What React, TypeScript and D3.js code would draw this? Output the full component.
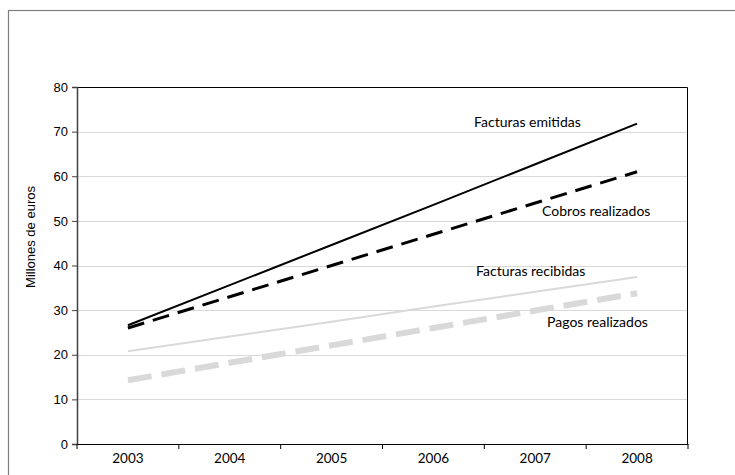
import { useEffect, useRef } from 'react';
import * as d3 from 'd3';

const years = ['2003', '2004', '2005', '2006', '2007', '2008'];
const facturasEmitidas = [26.6, 35.6, 44.6, 53.6, 62.7, 71.8];
const cobrosRealizados = [26.0, 33.0, 40.0, 47.0, 54.0, 61.0];
const facturasRecibidas = [20.8, 24.1, 27.4, 30.8, 34.1, 37.4];
const pagosRealizados = [14.3, 18.2, 22.1, 26.0, 29.9, 33.8];
const yTicks = [0, 10, 20, 30, 40, 50, 60, 70, 80];

type Serie = {
  name: string;
  values: number[];
  color: string;
  width: number;
  dash: string | null;
  label: { dx: number; dy: number };
};

const series: Serie[] = [
  { name: 'Facturas emitidas', values: facturasEmitidas, color: '#000000', width: 2, dash: null, label: { dx: -163, dy: 3 } },
  { name: 'Cobros realizados', values: cobrosRealizados, color: '#000000', width: 3, dash: '17,9', label: { dx: -95, dy: 44 } },
  { name: 'Facturas recibidas', values: facturasRecibidas, color: '#d9d9d9', width: 2, dash: null, label: { dx: -161, dy: -1 } },
  { name: 'Pagos realizados', values: pagosRealizados, color: '#d9d9d9', width: 6, dash: '24,10', label: { dx: -90, dy: 34 } },
];

export default function App() {
  const svgRef = useRef<SVGSVGElement>(null);

  useEffect(() => {
    if (!svgRef.current) return;
    const svg = d3.select(svgRef.current);
    svg.selectAll('*').remove();

    const W = 735, H = 475;
    const margin = { top: 87, right: 47, bottom: 31, left: 77 };
    const width = W - margin.left - margin.right;
    const height = H - margin.top - margin.bottom;
    const font = 'Lato, "Open Sans", sans-serif';
    const axisFont = '"Liberation Sans", Arial, sans-serif';

    // outer frame (cut off by the picture edges)
    svg.append('rect')
      .attr('x', 8.5).attr('y', 10.5)
      .attr('width', 800).attr('height', 600)
      .attr('fill', 'none').attr('stroke', '#7f7f7f').attr('stroke-width', 1.2);

    const g = svg.append('g').attr('transform', `translate(${margin.left},${margin.top})`);

    const x = d3.scaleBand().domain(years).range([0, width]);
    const y = d3.scaleLinear().domain([0, 80]).range([height, 0]);

    // grid
    g.selectAll('.grid')
      .data(yTicks.filter(d => d > 0 && d < 80))
      .enter().append('line')
      .attr('x1', 0).attr('x2', width)
      .attr('y1', d => Math.round(y(d)) + 0.5).attr('y2', d => Math.round(y(d)) + 0.5)
      .attr('stroke', '#d9d9d9').attr('stroke-width', 1);

    // plot border top/right
    g.append('path')
      .attr('d', `M0,0.5H${width - 0.5}V${height}`)
      .attr('fill', 'none').attr('stroke', '#000').attr('stroke-width', 1);

    // y axis
    const yAxis = g.append('g').call(d3.axisLeft(y).tickValues(yTicks).tickSize(5).tickPadding(4));
    yAxis.select('.domain').attr('stroke', '#404040').attr('stroke-width', 1.5);
    yAxis.selectAll('.tick line').attr('stroke', '#404040');
    yAxis.selectAll('.tick text').attr('font-family', axisFont).attr('font-size', 13).attr('fill', '#000');

    // x axis
    const xAxis = g.append('g').attr('transform', `translate(0,${height})`)
      .call(d3.axisBottom(x).tickSize(0).tickPadding(9));
    xAxis.select('.domain').attr('stroke', '#000').attr('stroke-width', 1.2);
    xAxis.selectAll('.tick text').attr('font-family', font).attr('font-size', 13.5).attr('fill', '#000');
    g.selectAll('.xtick')
      .data(d3.range(years.length + 1))
      .enter().append('line')
      .attr('x1', i => i * x.step()).attr('x2', i => i * x.step())
      .attr('y1', height).attr('y2', height + 5)
      .attr('stroke', '#000');

    const line = d3.line<number>()
      .x((_, i) => (x(years[i]) as number) + x.bandwidth() / 2)
      .y(d => y(d));

    // draw light ones first
    [...series].reverse().forEach(s => {
      g.append('path')
        .datum(s.values)
        .attr('fill', 'none')
        .attr('stroke', s.color)
        .attr('stroke-width', s.width)
        .attr('stroke-dasharray', s.dash)
        .attr('d', line);
    });

    series.forEach(s => {
      const last = s.values.length - 1;
      const px = (x(years[last]) as number) + x.bandwidth() / 2;
      g.append('text')
        .attr('x', px + s.label.dx)
        .attr('y', y(s.values[last]) + s.label.dy)
        .attr('font-family', font)
        .attr('font-size', 14)
        .attr('fill', '#000')
        .text(s.name);
    });

    svg.append('text')
      .attr('transform', `translate(35,237) rotate(-90)`)
      .attr('text-anchor', 'middle')
      .attr('font-family', axisFont)
      .attr('font-size', 13)
      .attr('fill', '#000')
      .text('Millones de euros');
  }, []);

  return <svg ref={svgRef} width={735} height={475} style={{ position: 'absolute', left: 0, top: 0 }} />;
}
